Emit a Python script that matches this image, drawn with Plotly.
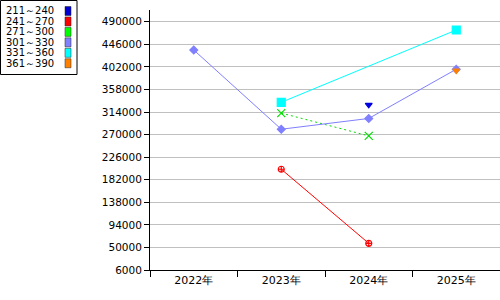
import plotly.graph_objects as go

categories = ["2022年", "2023年", "2024年", "2025年"]
series_names = ["211～240", "241～270", "271～300", "301～330", "331～360", "361～390"]
s211 = [None, None, 328000, None]
s241 = [None, 202500, 58000, None]
s271 = [None, 312000, 267500, None]
s301 = [435000, 280500, 301500, 397500]
s331 = [None, 333000, None, 474000]
s361 = [None, None, None, 395000]
ytick_vals = list(range(6000, 490001, 44000))
ytick_text = [str(v) for v in ytick_vals]

colors = ["#0000e0", "#ff0000", "#00e000", "#8080ff", "#00ffff", "#ff8000"]
legend_colors = ["#0000d0", "#ff0000", "#00ff00", "#8080ff", "#00ffff", "#ff8000"]
values = [s211, s241, s271, s301, s331, s361]
symbols = ["triangle-down", "circle-cross-open", "x-thin-open", "diamond", "square", "triangle-down"]
sizes = [6, 6, 8, 6, 8, 6]
dashes = ["solid", "solid", "2px,3px", "solid", "solid", "solid"]

fig = go.Figure()
for name, vals, col, sym, sz, dash in zip(series_names, values, colors, symbols, sizes, dashes):
    fig.add_trace(go.Scatter(
        x=categories, y=vals, name=name, mode="lines+markers",
        line=dict(color=col, width=1, dash=dash),
        marker=dict(symbol=sym, size=sz, color=col, line=dict(color=col, width=1.2)),
        connectgaps=True, showlegend=False,
    ))

L, T, W, H = 150, 10, 350, 260
def px(x):
    return (x - L) / W
def py(y):
    return (T + H - y) / H

shapes = [dict(type="rect", xref="paper", yref="paper",
               x0=px(0.5), x1=px(77), y0=py(0.5), y1=py(74.5),
               line=dict(color="black", width=1), fillcolor="white", layer="above")]
annotations = []
for i, (name, col) in enumerate(zip(series_names, legend_colors)):
    cy = 11 + i * 10.45
    annotations.append(dict(xref="paper", yref="paper", x=px(5), y=py(cy),
                            text=name, showarrow=False, xanchor="left", yanchor="middle",
                            borderpad=0,
                            font=dict(family="DejaVu Sans", size=10, color="black")))
    shapes.append(dict(type="rect", xref="paper", yref="paper",
                       x0=px(65), x1=px(71), y0=py(cy + 4.5), y1=py(cy - 4.5),
                       line=dict(color="#202020", width=0.5), fillcolor=col, layer="above"))

fig.update_layout(
    width=500, height=300,
    margin=dict(l=L, r=500 - L - W, t=T, b=300 - T - H),
    paper_bgcolor="white", plot_bgcolor="white",
    font=dict(family="DejaVu Sans", size=10.5, color="black"),
    shapes=shapes, annotations=annotations,
    xaxis=dict(type="category", categoryorder="array", categoryarray=categories,
               range=[-0.5, 3.5], showgrid=False, showline=True, linecolor="black", linewidth=1,
               ticks="outside", tickson="boundaries", ticklen=6, tickcolor="black",
               tickfont=dict(size=11), zeroline=False),
    yaxis=dict(range=[6000, 513000], tickvals=ytick_vals, ticktext=ytick_text,
               showgrid=True, gridcolor="#c0c0c0",
               gridwidth=1, showline=True, linecolor="black", linewidth=1,
               ticks="outside", ticklen=5, tickcolor="black", zeroline=False,
               tickfont=dict(size=10.5)),
)
fig.write_html("out.html")
